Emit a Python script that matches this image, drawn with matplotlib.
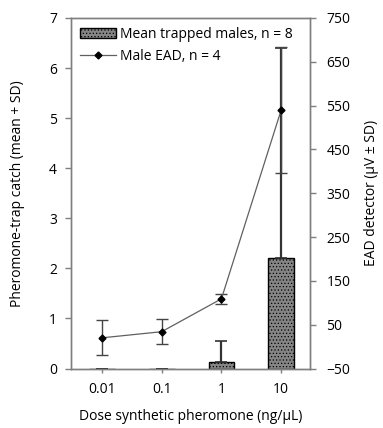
import matplotlib
matplotlib.use("Agg")
import matplotlib.pyplot as plt
import numpy as np

doses = ["0.01", "0.1", "1", "10"]
trap_mean = [0.0, 0.0, 0.13, 2.2]
trap_sd = [0.0, 0.0, 0.41, 4.2]
ead_mean = [20, 34, 109, 540]
ead_sd = [40, 29, 12, 144]

plt.rcParams['font.family'] = ['Open Sans', 'DejaVu Sans']
plt.rcParams['font.size'] = 10
plt.rcParams['hatch.color'] = '#a8a8a8'
plt.rcParams['hatch.linewidth'] = 0.5

fig = plt.figure(figsize=(3.83, 4.28), dpi=100)
ax = fig.add_axes([0.185, 0.139, 0.624, 0.819])
x = np.arange(len(doses))

spine_col = '#7f7f7f'
bars = ax.bar(x, trap_mean, width=0.43, facecolor='#858585', edgecolor='black',
              linewidth=1.0, hatch='.....', zorder=2)
ax.errorbar(x, trap_mean, yerr=[np.zeros(len(x)), trap_sd], fmt='none',
            ecolor='#333333', elinewidth=1.6, capsize=4, capthick=1.2, zorder=3)

ax.set_xlim(-0.52, 3.48)
ax.set_ylim(0, 7)
ax.set_yticks(range(0, 8))
ax.set_xticks(x)
ax.set_xticklabels(doses)
ax.set_ylabel('Pheromone-trap catch (mean + SD)', labelpad=17)
ax.set_xlabel('Dose synthetic pheromone (ng/µL)', labelpad=8)

ax2 = ax.twinx()
ax2.set_ylim(-50, 750)
ax2.set_yticks(range(-50, 751, 100))
ax2.errorbar(x, ead_mean, yerr=ead_sd, fmt='none', ecolor='#444444',
             elinewidth=1.0, capsize=4, capthick=1.0, zorder=3)
line, = ax2.plot(x, ead_mean, color='#606060', linewidth=0.9, marker='D',
                 markersize=3.5, markerfacecolor='black', markeredgecolor='black',
                 zorder=4)
ax2.set_ylabel('EAD detector (µV ± SD)', labelpad=10)

for a in (ax, ax2):
    for s in a.spines.values():
        s.set_color(spine_col)
        s.set_linewidth(1.0)
    a.tick_params(colors=spine_col, labelcolor='black', direction='out', length=4, width=1)
ax.tick_params(axis='x', length=3, pad=7)
ax.tick_params(axis='y', pad=6)
ax2.tick_params(axis='y', pad=8)

ax2.legend([bars, line], ['Mean trapped males, n = 8', 'Male EAD, n = 4'],
           loc='upper left', frameon=False, handlelength=2.6, handletextpad=0.3,
           borderaxespad=0.25, labelspacing=0.5, fontsize=10)

fig.savefig('out.png', dpi=100)
